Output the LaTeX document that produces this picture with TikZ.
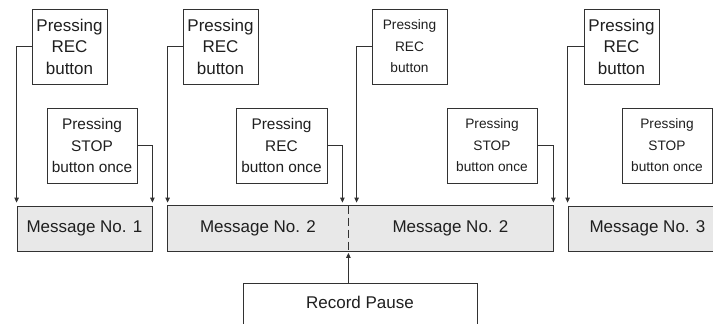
\documentclass[tikz,border=0pt]{standalone}
\usepackage{fontspec}
\setmainfont{Liberation Sans}
\usepackage{tikz}
\usetikzlibrary{arrows.meta, positioning}
\definecolor{msggray}{RGB}{232,232,232}
\definecolor{lineink}{RGB}{50,50,50}

\begin{document}
\begin{tikzpicture}[x=1pt, y=-1pt,
      press/.style={draw=lineink, line width=0.8pt, fill=white, text=black!88,
                    align=center, inner sep=0pt, minimum height=75pt},
      big/.style={press, font=\fontsize{17}{21.5}\selectfont, minimum width=75pt},
      mid/.style={press, font=\fontsize{15.4}{21.5}\selectfont, minimum width=90pt},
      small/.style={press, font=\fontsize{13.7}{21.5}\selectfont},
      msg/.style={fill=msggray, draw=lineink, line width=0.8pt, text=black!88,
                  font=\fontsize{17}{21.5}\selectfont, inner sep=0pt,
                  minimum height=45pt},
      arr/.style={-{Triangle[length=5pt,width=4.5pt]}, line width=0.8pt,
                  draw=lineink, shorten >=3pt}
    ]
    \path[use as bounding box, clip] (0,0) rectangle (713,324);

    % button presses
    \node[big] (rec1) at (69.5,46.5) {Pressing\\REC\\button};
    \node[big] (rec2) at (220.5,46.5) {Pressing\\REC\\button};
    \node[small, minimum width=75pt] (rec3) at (409.5,46.5) {Pressing\\REC\\button};
    \node[big] (rec4) at (621.5,46.5) {Pressing\\REC\\button};
    \node[mid] (stop1) at (92,145.5) {Pressing\\STOP\\button once};
    \node[mid, minimum width=91pt] (once) at (281.5,145.5) {Pressing\\REC\\button once};
    \node[small, minimum width=90pt] (stop2) at (492,145.5) {Pressing\\STOP\\button once};
    \node[small, minimum width=90pt] (stop3) at (667,145.5) {Pressing\\STOP\\button once};

    % messages
    \node[msg, minimum width=135pt] (msg1) at (84.5,228.5) {Message No. 1};
    \node[msg, draw=none, minimum width=180pt] (msg2a) at (258,228.5) {Message No. 2};
    \node[msg, draw=none, minimum width=205pt] (msg2b) at (450.5,228.5) {Message No. 2};
    \draw[lineink, line width=0.8pt] (msg2a.north west) rectangle (msg2b.south east);
    \draw[lineink, line width=0.8pt, dash pattern=on 8pt off 4pt]
      (msg2a.north east) -- (msg2a.south east);
    \node[msg, minimum width=159pt] (msg3) at (647.5,228.5) {Message No. 3};

    \node[press, anchor=north, minimum width=234pt, minimum height=0pt,
          font=\fontsize{17}{21.5}\selectfont, text height=25pt, text depth=40pt]
          (pause) at (360,283) {Record Pause};
    \coordinate (offright) at (730,206);

    \draw[arr] (rec1.west) -| (msg1.north west);
    \draw[arr] (stop1.east) -| (msg1.north east);
    \draw[arr] (rec2.west) -| (msg2a.north west);
    \draw[arr] (once.east) -| ([xshift=-6pt]msg2a.north east);
    \draw[arr] (rec3.west) -| ([xshift=9pt]msg2b.north west);
    \draw[arr] (stop2.east) -| (msg2b.north east);
    \draw[arr] (rec4.west) -| (msg3.north west);
    \draw[arr] (stop3.east) -| (offright);
    \draw[arr, shorten >=1.5pt] (pause.north -| msg2a.south east) -- (msg2a.south east);
  \end{tikzpicture}
\end{document}
